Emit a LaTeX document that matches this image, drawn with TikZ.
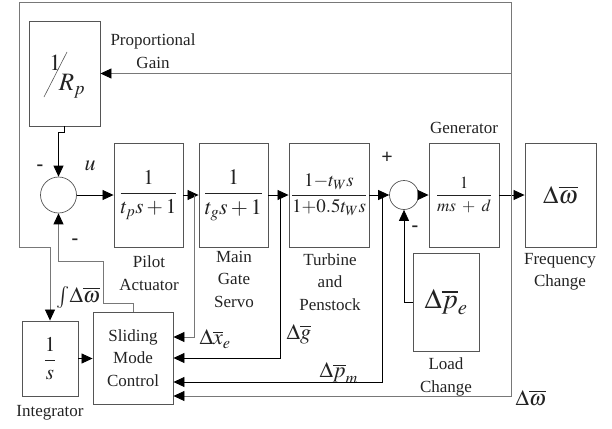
\documentclass[tikz,border=0pt]{standalone}
\usepackage{mathptmx}
\usepackage{fontspec}
\setmainfont{Liberation Serif}
\usetikzlibrary{arrows.meta,positioning,calc}
\definecolor{linegrey}{RGB}{120,120,120}
\definecolor{boxgrey}{RGB}{85,85,85}
\definecolor{inkgrey}{RGB}{35,35,35}

\begin{document}
\begin{tikzpicture}[x=1pt,y=-1pt,text=inkgrey,
  blk/.style={draw=boxgrey,line width=0.9pt,inner sep=0pt,align=center},
  sumj/.style={circle,draw=boxgrey,line width=0.7pt,minimum size=#1,inner sep=0pt},
  arr/.style={-{Triangle[length=11pt,width=10pt,black]},line width=0.8pt},
  lbl/.style={align=center,font=\fontsize{17}{22.5}\selectfont},
  sig/.style={font=\fontsize{22}{22}\selectfont},
  sgn/.style={font=\fontsize{20}{20}\selectfont\bfseries}]
\useasboundingbox (0,0) rectangle (612,428);
\node[blk,minimum width=71pt,minimum height=105pt] (rp) at (64.5,73.5) {};
\node[font=\fontsize{23}{23}\selectfont] (rpn) at (55,63) {$1$};
\draw[boxgrey,line width=0.6pt] (44,97) -- (67,52);
\node[font=\fontsize{25}{25}\selectfont] (rpd) at (72,86) {$R_p$};
\node[sumj=36pt] (s1) at (58.5,195) {};
\node[blk,minimum width=69pt,minimum height=104pt] (pa) at (148.5,195)
 {\fontsize{21}{21}\selectfont$\displaystyle\frac{1}{t_p s+1}$};
\node[blk,minimum width=69pt,minimum height=104pt] (gs) at (233.5,195)
 {\fontsize{22}{22}\selectfont$\displaystyle\frac{1}{t_g s+1}$};
\node[blk,minimum width=80pt,minimum height=104pt] (tp) at (329,195)
 {\fontsize{19}{19}\selectfont$\displaystyle\frac{1{-}t_W s}{1{+}0.5t_W s}$};
\node[sumj=29pt] (s2) at (404,195) {};
\node[blk,minimum width=70pt,minimum height=104pt] (gen) at (464,195)
 {\fontsize{17}{17}\selectfont$\displaystyle\frac{1}{ms\;+\;d}$};
\node[blk,minimum width=71pt,minimum height=104pt] (fq) at (560.5,195)
 {\fontsize{25}{25}\selectfont$\Delta\overline{\omega}$};
\node[blk,minimum width=66pt,minimum height=98pt] (ld) at (446,302)
 {\fontsize{28}{28}\selectfont$\Delta\overline{p}_e$};
\node[blk,minimum width=56pt,minimum height=75pt] (int) at (50,358.5)
 {\fontsize{21}{21}\selectfont$\displaystyle\frac{1}{s}$};
\node[blk,minimum width=80pt,minimum height=92pt,lbl] (smc) at (133,358)
 {Sliding\\Mode\\Control};
\node[lbl] (pgl) at (153,51) {Proportional\\Gain};
\node[lbl] (gnl) at (464,128) {Generator};
\node[lbl] (pal) at (149,273) {Pilot\\Actuator};
\node[lbl] (gsl) at (234,279) {Main\\Gate\\Servo};
\node[lbl] (tpl) at (330,282) {Turbine\\and\\Penstock};
\node[lbl] (fql) at (560,272) {Frequency\\Change};
\node[lbl] (ldl) at (446,377) {Load\\Change};
\node[lbl] (inl) at (50,413) {Integrator};
\node[sig] (ul) at (90,166) {$u$};
\node[sgn] (m1) at (40,168) {-};
\node[sgn] (m2) at (75,242) {-};
\node[sgn] (p2) at (387,158) {+};
\node[sgn] (m3) at (415,229) {-};
\node[sig,anchor=west] (dxl) at (196,339) {$\Delta\overline{x}_e$};
\node[sig,anchor=west] (dgl) at (283,334) {$\Delta\overline{g}$};
\node[sig,anchor=west] (dml) at (316,373) {$\Delta\overline{p}_m$};
\node[sig,anchor=west] (dwl) at (512,398) {$\Delta\overline{\omega}$};
\node[sig,anchor=west] (iwl) at (53,297) {$\int\!\Delta\overline{\omega}$};
\coordinate (w) at (511,195);
\coordinate (tl) at (19,2);
\coordinate (ib) at (50,247);
\coordinate (sk) at (103,261);
\coordinate (bx) at (194,195);
\coordinate (bg) at (280,195);
\coordinate (bm) at (382,195);
\draw[arr] (s1) -- (pa);
\draw[arr] (pa) -- (gs);
\draw[arr] (gs) -- (tp);
\draw[arr] (tp) -- (s2);
\draw[arr] (s2) -- (gen);
\draw[arr] (gen) -- (fq);
\draw[arr] (rp.south) -- ++(0,6) -| (s1.north);
\draw[arr] (ld.west) -| (s2.south);
\draw[arr,linegrey] (w) |- (rp.east);
\draw[arr,linegrey] (w) |- (tl) |- (ib) -| (int.north);
\draw[arr,linegrey] (w) |- ($(smc.east)+(0,38)$);
\draw[arr,linegrey] (bx) |- ($(smc.east)+(0,-21)$);
\draw[arr] (bg) |- (smc.east);
\draw[arr] (bm) |- ($(smc.east)+(0,24)$);
\draw[arr] (int.east) -- (int.east -| smc.west);
\draw[arr,linegrey] (smc.north) -- ++(0,-8) -| (sk) -| (s1.south);
\end{tikzpicture}
\end{document}
